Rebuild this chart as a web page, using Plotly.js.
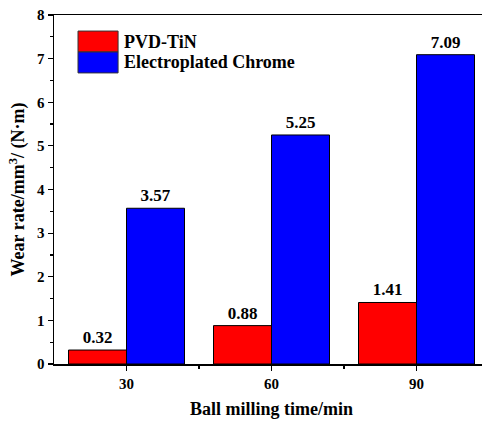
<!DOCTYPE html>
<html>
<head>
<meta charset="utf-8">
<script src="https://cdn.plot.ly/plotly-3.0.1.min.js"></script>
<style>
  html, body { margin: 0; padding: 0; overflow: hidden; background: #fff; }
  #chart { width: 482px; height: 421px; }
</style>
</head>
<body>
<div id="chart"></div>
<script>
// Ball milling time (min) and wear rate of each coating
const millingTime = [30, 60, 90];
const seriesNames = ['PVD-TiN', 'Electroplated Chrome'];
const tinWear = [0.32, 0.88, 1.41];
const chromeWear = [3.57, 5.25, 7.09];
const seriesColors = ['#FF0000', '#0000FF'];
const yTicks = [0, 1, 2, 3, 4, 5, 6, 7, 8];

const serif = '"Liberation Serif"';
const barWidth = 12;

function barTrace(name, values, color, offset) {
  return {
    type: 'bar',
    name: name,
    x: millingTime,
    y: values,
    width: barWidth,
    offset: offset,
    marker: { color: color, line: { color: '#000', width: 1 } },
    text: values.map(v => '<b>' + v.toFixed(2) + '</b>'),
    textposition: 'outside',
    textfont: { family: serif, size: 17, color: '#000' },
    cliponaxis: false,
    showlegend: false,
    hoverinfo: 'x+y'
  };
}

const data = [
  barTrace(seriesNames[0], tinWear, seriesColors[0], -barWidth),
  barTrace(seriesNames[1], chromeWear, seriesColors[1], 0)
];

// Hand-drawn legend: stacked swatches with labels, in paper coordinates
const swX0 = 0.0552, swX1 = 0.1473;
const swRows = [[0.954, 0.894], [0.894, 0.834]];
const shapes = swRows.map((r, i) => ({
  type: 'rect', xref: 'paper', yref: 'paper',
  x0: swX0, x1: swX1, y0: r[1], y1: r[0],
  fillcolor: seriesColors[i], line: { color: '#333', width: 1 }
}));
const annotations = swRows.map((r, i) => ({
  xref: 'paper', yref: 'paper',
  x: 0.157, y: (r[0] + r[1]) / 2,
  xanchor: 'left', yanchor: 'middle',
  text: '<b>' + seriesNames[i] + '</b>', showarrow: false,
  font: { family: serif, size: 18, color: '#000' }
}));

const layout = {
  width: 499,
  height: 421,
  margin: { l: 54, r: 10, t: 15, b: 57 },
  paper_bgcolor: '#fff',
  plot_bgcolor: '#fff',
  bargap: 0,
  font: { family: serif, color: '#000' },
  xaxis: {
    range: [15, 105],
    tickvals: millingTime,
    ticktext: millingTime.map(v => '<b>' + v + '</b>'),
    ticks: 'outside', ticklen: 5, tickwidth: 1.2, tickcolor: '#000',
    minor: { tickvals: [45, 75], ticks: 'outside', ticklen: 3, tickwidth: 1.2, tickcolor: '#000' },
    showline: true, linecolor: '#000', linewidth: 1.5, mirror: true,
    showgrid: false, zeroline: false,
    tickfont: { family: serif, size: 15, color: '#000' },
    title: {
      text: '<b>Ball milling time/min</b>',
      font: { family: serif, size: 18, color: '#000' },
      standoff: 12
    }
  },
  yaxis: {
    range: [0, 8],
    tickvals: yTicks,
    ticktext: yTicks.map(v => '<b>' + v + '</b>'),
    ticks: 'outside', ticklen: 5, tickwidth: 1.2, tickcolor: '#000',
    minor: { dtick: 0.5, ticks: 'outside', ticklen: 3, tickwidth: 1.2, tickcolor: '#000' },
    showline: true, linecolor: '#000', linewidth: 1.5, mirror: true,
    showgrid: false, zeroline: false,
    tickfont: { family: serif, size: 15, color: '#000' },
    title: {
      text: '<b>Wear rate/mm<sup>3</sup>/ (N·m)</b>',
      font: { family: serif, size: 18, color: '#000' },
      standoff: 7
    }
  },
  shapes: shapes,
  annotations: annotations
};

Plotly.newPlot('chart', data, layout, { staticPlot: true, displayModeBar: false });
</script>
</body>
</html>
